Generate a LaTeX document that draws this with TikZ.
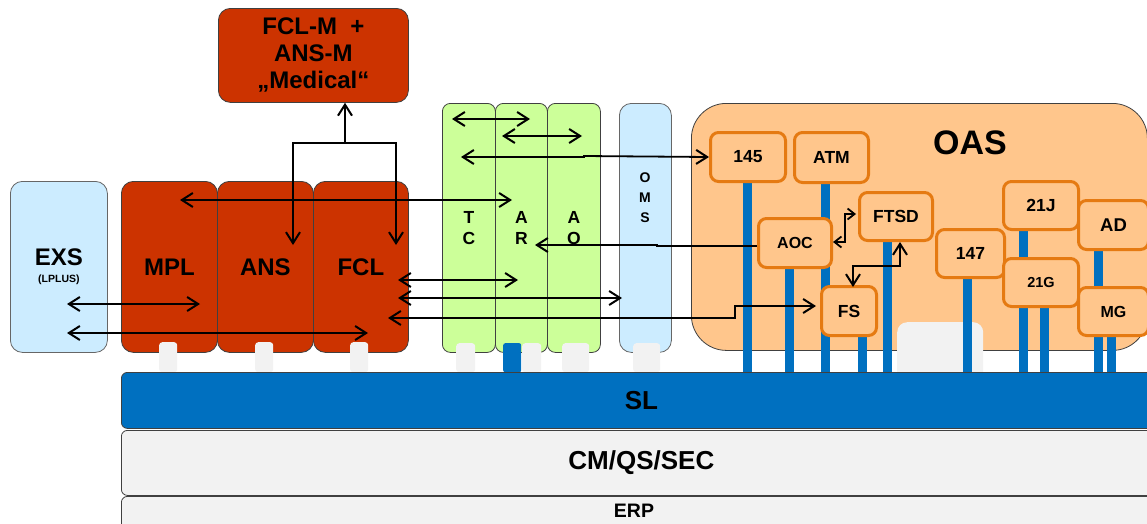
\documentclass[tikz,border=0pt]{standalone}
\usepackage{fontspec}
\setmainfont{Liberation Sans}
\usetikzlibrary{arrows.meta}
\definecolor{redc}{HTML}{CC3300}
\definecolor{greenc}{HTML}{CCFF99}
\definecolor{bluel}{HTML}{CCECFF}
\definecolor{blued}{HTML}{0070C0}
\definecolor{grayl}{HTML}{F2F2F2}
\definecolor{oasc}{HTML}{FFC68C}
\definecolor{orb}{HTML}{E57A12}
\definecolor{edge}{HTML}{404040}
\begin{document}
\begin{tikzpicture}[x=1pt,y=-1pt,
  base/.style={anchor=north west, inner sep=0pt, align=center, font=\bfseries},
  redbox/.style={base, fill=redc, draw=edge, line width=0.8pt, rounded corners=12pt,
    font=\fontsize{24}{27}\selectfont\bfseries},
  lbbox/.style={base, fill=bluel, draw=edge!80, line width=0.8pt, rounded corners=12pt},
  grbox/.style={base, fill=greenc, draw=edge, line width=0.8pt, rounded corners=8pt,
    font=\fontsize{17.5}{21}\selectfont\bfseries},
  oasbox/.style={base, fill=oasc, draw=edge, line width=0.8pt, rounded corners=35pt},
  inbox/.style={base, fill=oasc, draw=orb, line width=3pt, rounded corners=8pt,
    font=\fontsize{17.5}{19}\selectfont\bfseries},
  tabbox/.style={base, fill=grayl, rounded corners=3pt},
  bluetab/.style={base, fill=blued, rounded corners=2pt},
  layer/.style={base, draw=edge, line width=0.8pt, rounded corners=6pt},
  barline/.style={draw=blued, line width=9pt},
  tip/.tip={Straight Barb[length=11pt,width=14pt,line width=2pt]},
  smalltip/.tip={Straight Barb[length=7pt,width=11pt,line width=1.8pt]},
  arr/.style={line width=1.8pt, -tip},
  darr/.style={line width=1.8pt, tip-tip},
  sdarr/.style={line width=1.6pt, smalltip-smalltip}
]
\useasboundingbox (0,0) rectangle (1147,523);
\fill[white] (0,0) rectangle (1147,523);

% Medical box
\node[redbox, minimum width=190, minimum height=94] (Med) at (218,8)
  {FCL-M\ \ +\\ANS-M\\„Medical“};

% EXS
\node[lbbox, minimum width=97, minimum height=171] (EXS) at (10,181)
  {{\fontsize{24}{24}\selectfont EXS}\\[5pt]{\fontsize{10.5}{12}\selectfont (LPLUS)}};

% red boxes
\node[redbox, minimum width=96, minimum height=171] (MPL) at (121,181) {MPL};
\node[redbox, minimum width=96, minimum height=171] (ANS) at (217,181) {ANS};
\node[redbox, minimum width=95, minimum height=171] (FCL) at (313,181) {FCL};

% green boxes
\node[grbox, minimum width=53, minimum height=249] (TC) at (442,103) {T\\C};
\node[grbox, minimum width=52, minimum height=249] (AR) at (495,103) {A\\R};
\node[grbox, minimum width=53, minimum height=249] (AO) at (547,103) {A\\O};

% OMS
\node[lbbox, minimum width=52, minimum height=249] (OMS) at (619,103) {};
\node[inner sep=0pt, align=center, font=\fontsize{14}{20}\selectfont\bfseries] (OMSt) at (645,198) {O\\M\\S};

% OAS
\node[oasbox, minimum width=456, minimum height=247] (OAS) at (691,103) {};
\node[inner sep=0pt, font=\fontsize{34}{36}\selectfont\bfseries] (OASt) at (970,143) {OAS};
\node[tabbox, rounded corners=10pt, minimum width=86, minimum height=60] (gtab) at (897,322) {};

% blue bars
\draw[barline] (747,180) -- (747,372);
\draw[barline] (789,266) -- (789,372);
\draw[barline] (825,181) -- (825,372);
\draw[barline] (862,334) -- (862,372);
\draw[barline] (887,239) -- (887,372);
\draw[barline] (967,276) -- (967,372);
\draw[barline] (1023,228) -- (1023,372);
\draw[barline] (1044,305) -- (1044,372);
\draw[barline] (1098,248) -- (1098,372);
\draw[barline] (1111,334) -- (1111,372);

% inner boxes
\node[inbox, minimum width=75, minimum height=49] (n145) at (709,131) {145};
\node[inbox, minimum width=74, minimum height=50] (ATM) at (793,131) {ATM};
\node[inbox, minimum width=73, minimum height=48] (FTSD) at (858,191) {FTSD};
\node[inbox, minimum width=73, minimum height=49, font=\fontsize{16}{18}\selectfont\bfseries] (AOC) at (757,217) {AOC};
\node[inbox, minimum width=55, minimum height=49] (FS) at (820,285) {FS};
\node[inbox, minimum width=68, minimum height=48] (n147) at (935,228) {147};
\node[inbox, minimum width=75, minimum height=48] (n21J) at (1002,180) {21J};
\node[inbox, minimum width=75, minimum height=48, font=\fontsize{14.5}{16}\selectfont\bfseries] (n21G) at (1002,257) {21G};
\node[inbox, minimum width=70, minimum height=49, font=\fontsize{18.5}{20}\selectfont\bfseries] (AD) at (1077,199) {AD};
\node[inbox, minimum width=70, minimum height=48, font=\fontsize{16}{18}\selectfont\bfseries] (MG) at (1077,286) {MG};

% tabs
\node[tabbox, minimum width=18, minimum height=30] (tMPL) at (159,342) {};
\node[tabbox, minimum width=18, minimum height=30] (tANS) at (255,342) {};
\node[tabbox, minimum width=18, minimum height=30] (tFCL) at (350,342) {};
\node[tabbox, minimum width=19, minimum height=29] (tTC) at (456,343) {};
\node[bluetab, minimum width=18, minimum height=29] (tAR1) at (503,343) {};
\node[tabbox, minimum width=19, minimum height=29] (tAR2) at (522,343) {};
\node[tabbox, minimum width=27, minimum height=29] (tAO) at (562,343) {};
\node[tabbox, minimum width=27, minimum height=29] (tOMS) at (633,343) {};

% layers
\node[layer, fill=blued, minimum width=1040, minimum height=56,
  font=\fontsize{26}{28}\selectfont\bfseries, text width=1026] (SL) at (121,372) {SL};
\node[layer, fill=grayl, minimum width=1040, minimum height=65,
  font=\fontsize{26}{28}\selectfont\bfseries, text width=1026] (CM) at (121,430) {CM/QS/SEC};
\node[layer, fill=grayl, minimum width=1040, minimum height=40] (ERP) at (121,496) {};
\node[inner sep=0pt, font=\fontsize{19.5}{22}\selectfont\bfseries] (ERPt) at (634,511) {ERP};

% coordinates for connectors
\coordinate (br) at (345,143);
\coordinate (ansT) at (293,245);
\coordinate (fclT) at (396,245);
\coordinate (mplA) at (180,200);
\coordinate (arA) at (512,200);
\coordinate (exs1) at (67,304);
\coordinate (mpl1) at (200,304);
\coordinate (exs2) at (67,333);
\coordinate (fcl2) at (368,333);
\coordinate (fcl3) at (398,280);
\coordinate (ar3) at (518,280);
\coordinate (fcl4) at (398,298);
\coordinate (oms4) at (622,298);
\coordinate (fcl5) at (388,318);
\coordinate (fs5) at (816,306);
\coordinate (tc1) at (452,119);
\coordinate (ar1) at (530,119);
\coordinate (ar2) at (502,136);
\coordinate (ao2) at (582,136);
\coordinate (tc3) at (461,157);
\coordinate (ar4) at (535,245);
\coordinate (fsT) at (853,287);
\coordinate (ftsdB) at (900,242);
\coordinate (aocR) at (833,242);
\coordinate (ftsdL) at (856,214);

% connectors
\draw[arr] (br) -- (br |- Med.south);
\draw[arr] (br) -| (ansT);
\draw[arr] (br) -| (fclT);
\draw[darr] (mplA) -- (arA);
\draw[darr] (exs1) -- (mpl1);
\draw[darr] (exs2) -- (fcl2);
\draw[darr] (fcl3) -- (ar3);
\draw[darr] (fcl4) -- (oms4);
\draw[darr] (fcl5) -- (735,318) |- (fs5);
\draw[darr] (tc1) -- (ar1);
\draw[darr] (ar2) -- (ao2);
\draw[darr] (tc3) -- (584,157) -- (584,156) -- (n145.west);
\draw[arr] (AOC.west |- 0,246) -- (657,246) -- (657,245) -- (ar4);
\draw[sdarr] (aocR) -- (845,242) |- (ftsdL);
\draw[darr] (fsT) -- (853,266) -| (ftsdB);
\end{tikzpicture}
\end{document}
